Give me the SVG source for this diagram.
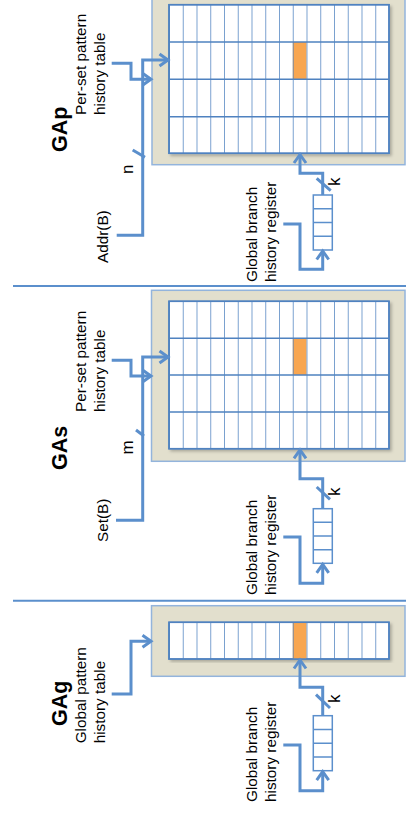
<svg xmlns="http://www.w3.org/2000/svg" width="406" height="816" viewBox="0 0 406 816">
<style>
.lbl{font-family:"Liberation Sans",Arial,sans-serif;font-size:15.3px;fill:#000}
.var{font-family:"Liberation Sans",Arial,sans-serif;font-size:17px;fill:#000}
.ttl{font-family:"Liberation Sans",Arial,sans-serif;font-size:21.5px;font-weight:bold;fill:#000}
.box{fill:#E2DFCD;stroke:#93B4DC;stroke-width:1.5}
.cell{fill:#fff;stroke:#4F82C0;stroke-width:1.5}
.gl{stroke:#4F82C0;stroke-width:1.5;fill:none}
.hot{fill:#F8A650}
.wire{fill:none;stroke:#5B8FCC;stroke-width:3;stroke-linejoin:miter}
.sep{fill:none;stroke:#5B8FCC;stroke-width:2}
.reg{fill:#fff;stroke:#5B8FCC;stroke-width:1.5}
.rl{stroke:#5B8FCC;stroke-width:1.5}
</style>
<defs>
<marker id="ah" markerUnits="userSpaceOnUse" markerWidth="16" markerHeight="16" refX="12" refY="8" orient="auto" viewBox="0 0 16 16">
<path d="M3.5,2 L12,8 L3.5,14" fill="none" stroke="#5B8FCC" stroke-width="3" stroke-linejoin="miter"/>
</marker>
<filter id="sh" x="-5%" y="-5%" width="115%" height="115%">
<feDropShadow dx="2" dy="2" stdDeviation="1.5" flood-color="#000" flood-opacity="0.25"/>
</filter>
<pattern id="cols" patternUnits="userSpaceOnUse" x="169" y="0" width="13.75" height="816">
<line x1="0" y1="0" x2="0" y2="816" stroke="#4F82C0" stroke-width="1.5"/>
</pattern>
</defs>

<g id="separators">
<path class="sep" d="M13,286 H406"/>
<path class="sep" d="M13,600.7 H406"/>
</g>

<!-- GAp -->
<g id="gap-table">
<rect class="box" x="152" y="-10" width="253" height="174.7"/>
<rect class="cell" x="169" y="4.7" width="220" height="148.6" filter="url(#sh)"/>
<rect class="hot" x="292.75" y="42" width="13.75" height="37.3"/>
<rect x="169" y="4.7" width="220" height="148.6" fill="url(#cols)"/>
<path class="gl" d="M169,42 H389 M169,79.3 H389 M169,116.7 H389"/>
<rect x="169" y="4.7" width="220" height="148.6" fill="none" stroke="#4F82C0" stroke-width="1.5"/>
</g>
<g id="gap-register">
<rect class="reg" x="313.3" y="195" width="19" height="55"/>
<path class="rl" d="M313.3,208.75 H332.3 M313.3,222.5 H332.3 M313.3,236.25 H332.3"/>
</g>
<g id="gap-labels">
<text class="ttl" transform="translate(67,152) rotate(-90)">GAp</text>
<text class="lbl" transform="translate(86,115) rotate(-90)">Per-set pattern</text>
<text class="lbl" transform="translate(104.5,115) rotate(-90)">history table</text>
<text class="lbl" transform="translate(108,263) rotate(-90)">Addr(B)</text>
<text class="var" transform="translate(132.5,174) rotate(-90)">n</text>
<text class="var" transform="translate(340,186) rotate(-90)">k</text>
<text class="lbl" transform="translate(257,282) rotate(-90)">Global branch</text>
<text class="lbl" transform="translate(276,282) rotate(-90)">history register</text>
</g>

<!-- GAs -->
<g id="gas-table">
<rect class="box" x="151.5" y="290.3" width="253.5" height="171"/>
<rect class="cell" x="169" y="301.3" width="220" height="147.4" filter="url(#sh)"/>
<rect class="hot" x="292.75" y="338.2" width="13.75" height="36.9"/>
<rect x="169" y="301.3" width="220" height="147.4" fill="url(#cols)"/>
<path class="gl" d="M169,338.2 H389 M169,375.1 H389 M169,411.9 H389"/>
<rect x="169" y="301.3" width="220" height="147.4" fill="none" stroke="#4F82C0" stroke-width="1.5"/>
</g>
<g id="gas-register">
<rect class="reg" x="313.3" y="508.7" width="19" height="54.6"/>
<path class="rl" d="M313.3,522.35 H332.3 M313.3,536 H332.3 M313.3,549.65 H332.3"/>
</g>
<g id="gas-labels">
<text class="ttl" transform="translate(67,470) rotate(-90)">GAs</text>
<text class="lbl" transform="translate(86,412) rotate(-90)">Per-set pattern</text>
<text class="lbl" transform="translate(104.5,412) rotate(-90)">history table</text>
<text class="lbl" transform="translate(108,542) rotate(-90)">Set(B)</text>
<text class="var" transform="translate(132.5,454.5) rotate(-90)">m</text>
<text class="var" transform="translate(340,496) rotate(-90)">k</text>
<text class="lbl" transform="translate(257,595) rotate(-90)">Global branch</text>
<text class="lbl" transform="translate(276,595) rotate(-90)">history register</text>
</g>

<!-- GAg -->
<g id="gag-table">
<rect class="box" x="151.5" y="605.7" width="253.5" height="70.6"/>
<rect class="cell" x="169" y="622.3" width="220" height="36.7" filter="url(#sh)"/>
<rect class="hot" x="292.75" y="622.3" width="13.75" height="36.7"/>
<rect x="169" y="622.3" width="220" height="36.7" fill="url(#cols)"/>
<rect x="169" y="622.3" width="220" height="36.7" fill="none" stroke="#4F82C0" stroke-width="1.5"/>
</g>
<g id="gag-register">
<rect class="reg" x="313.3" y="715.7" width="19" height="55"/>
<path class="rl" d="M313.3,729.45 H332.3 M313.3,743.2 H332.3 M313.3,756.95 H332.3"/>
</g>
<g id="gag-labels">
<text class="ttl" transform="translate(67,726) rotate(-90)">GAg</text>
<text class="lbl" transform="translate(86,743.3) rotate(-90)">Global pattern</text>
<text class="lbl" transform="translate(104.5,743.3) rotate(-90)">history table</text>
<text class="var" transform="translate(340,703) rotate(-90)">k</text>
<text class="lbl" transform="translate(257,802) rotate(-90)">Global branch</text>
<text class="lbl" transform="translate(276,802) rotate(-90)">history register</text>
</g>

<g id="connectors">
<!-- GAp -->
<path class="wire" d="M111.7,63.3 H131 V79.3 H151" marker-end="url(#ah)"/>
<path class="wire" d="M116.7,235.3 H142.7 V60 H168" marker-end="url(#ah)"/>
<path class="wire" d="M132.7,150 L145,157.3"/>
<path class="wire" d="M322.7,195 V173.3 H300 V154.5" marker-end="url(#ah)"/>
<path class="wire" d="M316.7,178.3 L330.7,190.7"/>
<path class="wire" d="M283.3,224 H300 V269.3 H322.7 V251" marker-end="url(#ah)"/>
<!-- GAs -->
<path class="wire" d="M111.7,360.3 H131 V376 H151" marker-end="url(#ah)"/>
<path class="wire" d="M116,520.3 H142.7 V357 H168" marker-end="url(#ah)"/>
<path class="wire" d="M136,430 L144,436"/>
<path class="wire" d="M322.7,508.7 V478.7 H300 V449.8" marker-end="url(#ah)"/>
<path class="wire" d="M316.7,487 L330,499.3"/>
<path class="wire" d="M283.3,537 H300 V583.3 H322.7 V564.3" marker-end="url(#ah)"/>
<!-- GAg -->
<path class="wire" d="M111.7,694 H131 V641.3 H151" marker-end="url(#ah)"/>
<path class="wire" d="M322.7,715.7 V687.3 H300 V660" marker-end="url(#ah)"/>
<path class="wire" d="M316,694.7 L330,708"/>
<path class="wire" d="M283.3,745 H300 V790.7 H322.7 V771.7" marker-end="url(#ah)"/>
</g>
</svg>
